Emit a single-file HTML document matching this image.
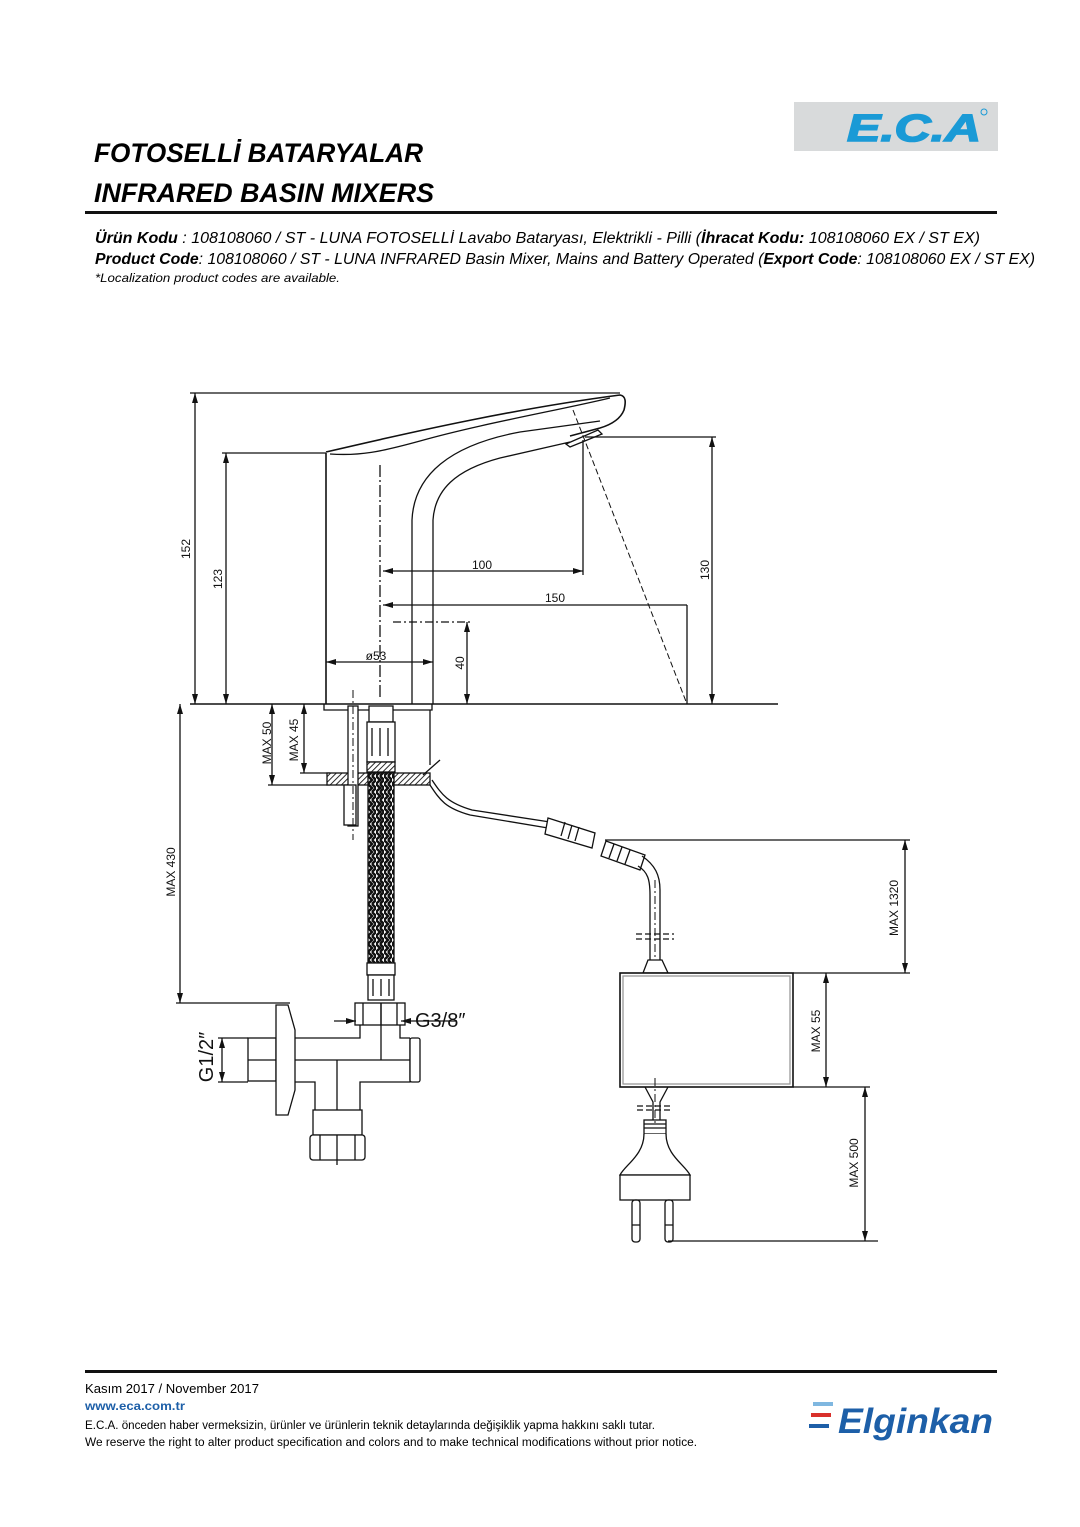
<!DOCTYPE html>
<html><head><meta charset="utf-8"><style>
html,body{margin:0;padding:0;background:#fff}
svg{display:block}
text{font-family:"Liberation Sans",sans-serif}
.dim{font-family:"DejaVu Sans","Liberation Sans",sans-serif;font-size:12px}
</style></head><body>
<svg width="1080" height="1527" viewBox="0 0 1080 1527" xmlns="http://www.w3.org/2000/svg">
<defs>
<marker id="a" viewBox="0 0 10 6" refX="10" refY="3" markerWidth="10" markerHeight="6" orient="auto-start-reverse" markerUnits="userSpaceOnUse"><path d="M0,0 L10,3 L0,6 z" fill="#111"/></marker>
<pattern id="h" width="4" height="4" patternUnits="userSpaceOnUse" patternTransform="rotate(45)"><rect width="4" height="4" fill="#fff"/><line x1="0" y1="0" x2="0" y2="4" stroke="#111" stroke-width="1.8"/></pattern>
<pattern id="br" width="8" height="8" patternUnits="userSpaceOnUse"><rect width="8" height="8" fill="#fff"/><path d="M0,0 L4,4 L0,8 M4,0 L8,4 L4,8" stroke="#111" stroke-width="2.4" fill="none"/></pattern>
</defs>

<!-- ECA logo -->
<rect x="794" y="102" width="204" height="49" fill="#d8dadb"/>
<text x="847" y="141" font-size="38" font-weight="bold" font-style="italic" fill="#1a9ad6" stroke="#1a9ad6" stroke-width="1.5" textLength="134" lengthAdjust="spacingAndGlyphs">E.C.A</text>
<circle cx="984" cy="112" r="3" fill="none" stroke="#1a9ad6" stroke-width="1"/>

<!-- titles -->
<text x="94" y="162" font-size="27" font-weight="bold" font-style="italic" textLength="329" lengthAdjust="spacingAndGlyphs">FOTOSELLİ BATARYALAR</text>
<text x="94" y="202" font-size="27" font-weight="bold" font-style="italic" textLength="340" lengthAdjust="spacingAndGlyphs">INFRARED BASIN MIXERS</text>
<rect x="85" y="211" width="912" height="3" fill="#111"/>
<text x="95" y="243" font-size="15.5" font-style="italic" textLength="885" lengthAdjust="spacingAndGlyphs"><tspan font-weight="bold">Ürün Kodu</tspan>     : 108108060 / ST - LUNA FOTOSELLİ Lavabo Bataryası, Elektrikli - Pilli (<tspan font-weight="bold">İhracat Kodu:</tspan> 108108060 EX / ST EX)</text>
<text x="95" y="264" font-size="15.5" font-style="italic" textLength="940" lengthAdjust="spacingAndGlyphs"><tspan font-weight="bold">Product Code</tspan>: 108108060 / ST - LUNA INFRARED Basin Mixer, Mains and Battery Operated (<tspan font-weight="bold">Export Code</tspan>: 108108060 EX / ST EX)</text>
<text x="95" y="282" font-size="12" font-style="italic" textLength="245" lengthAdjust="spacingAndGlyphs">*Localization product codes are available.</text>

<g stroke="#111" fill="none" stroke-width="1.3">
<line x1="190" y1="393" x2="620" y2="393"/>
<line x1="195" y1="393" x2="195" y2="704" marker-start="url(#a)" marker-end="url(#a)"/>
<line x1="222" y1="453" x2="326" y2="453"/>
<line x1="226" y1="453" x2="226" y2="704" marker-start="url(#a)" marker-end="url(#a)"/>
<line x1="190" y1="704" x2="778" y2="704" stroke-width="1.6"/>
<path d="M326,704 L326,453" stroke-width="1.6"/>
<path d="M326,452 C420,430 520,408 620,395 C626,396 626,402 624,410 C620,420 610,425 600,428 L570,436" stroke-width="1.6"/>
<path d="M330,454 C360,456 380,452 420,441 C480,424 560,410 610,398"/>
<path d="M412,704 L412,520 C414,475 450,445 520,432 L600,421"/>
<path d="M433,704 L433,520 C435,490 455,470 500,458 L570,442"/>
<path d="M566,444 L598,430 L602,434 L570,447 z" fill="#fff"/>
<line x1="380" y1="465" x2="380" y2="700" stroke-dasharray="12,3,2,3"/>
<line x1="573" y1="410" x2="687" y2="704" stroke-dasharray="6,3" stroke-width="1"/>
<line x1="583" y1="440" x2="583" y2="575"/>
<line x1="383" y1="571" x2="583" y2="571" marker-start="url(#a)" marker-end="url(#a)"/>
<line x1="383" y1="605" x2="687" y2="605" marker-start="url(#a)"/>
<line x1="687" y1="605" x2="687" y2="704"/>
<line x1="585" y1="437" x2="716" y2="437"/>
<line x1="712" y1="437" x2="712" y2="704" marker-start="url(#a)" marker-end="url(#a)"/>
<line x1="393" y1="622" x2="470" y2="622" stroke-dasharray="8,3,2,3"/>
<line x1="467" y1="622" x2="467" y2="704" marker-start="url(#a)" marker-end="url(#a)"/>
<line x1="326" y1="662" x2="433" y2="662" marker-start="url(#a)" marker-end="url(#a)"/>

<line x1="268" y1="785" x2="330" y2="785"/>
<line x1="272" y1="704" x2="272" y2="785" marker-start="url(#a)" marker-end="url(#a)"/>
<line x1="300" y1="773" x2="330" y2="773"/>
<line x1="304" y1="704" x2="304" y2="773" marker-start="url(#a)" marker-end="url(#a)"/>
<rect x="327" y="773" width="103" height="12" fill="url(#h)"/>
<path d="M324,704 L324,710 L432,710 L432,704"/>
<line x1="430" y1="710" x2="430" y2="765"/>
<line x1="423" y1="775" x2="440" y2="760"/>
<rect x="348" y="706" width="10" height="120" fill="#fff"/>
<rect x="344" y="785" width="12" height="40" fill="#fff"/>
<line x1="353" y1="690" x2="353" y2="840" stroke-dasharray="8,3,2,3" stroke-width="1"/>
<rect x="369" y="706" width="24" height="16" fill="#fff"/>
<rect x="367" y="722" width="28" height="40" fill="#fff"/>
<path d="M372,728 v28 M380,728 v28 M388,728 v28"/>
<rect x="367" y="762" width="28" height="10" fill="url(#h)"/>
<rect x="368" y="773" width="26" height="190" fill="url(#br)"/>
<line x1="381" y1="773" x2="381" y2="963"/>
<rect x="367" y="963" width="28" height="12" fill="#fff"/>
<rect x="368" y="975" width="26" height="25" fill="#fff"/>
<path d="M373,979 v17 M381,979 v17 M389,979 v17"/>
<line x1="176" y1="1003" x2="290" y2="1003"/>
<line x1="180" y1="704" x2="180" y2="1003" marker-start="url(#a)" marker-end="url(#a)"/>

<rect x="355" y="1003" width="50" height="22" fill="#fff"/>
<path d="M363,1003 v22 M381,1003 v22 M397,1003 v22"/>
<path d="M360,1025 L360,1038 L295,1038 M400,1025 L400,1038 L410,1038"/>
<path d="M295,1082 L315,1082 L315,1112 M360,1112 L360,1082 L410,1082 L410,1038"/>
<line x1="295" y1="1060" x2="410" y2="1060"/>
<line x1="381" y1="1003" x2="381" y2="1060"/>
<line x1="337" y1="1060" x2="337" y2="1165"/>
<rect x="410" y="1038" width="10" height="44" rx="2" fill="#fff"/>
<rect x="248" y="1038" width="28" height="43" fill="#fff"/>
<line x1="248" y1="1060" x2="276" y2="1060"/>
<path d="M276,1005 L288,1005 L295,1030 L295,1090 L288,1115 L276,1115 z" fill="#fff"/>
<rect x="313" y="1110" width="49" height="25" fill="#fff"/>
<rect x="310" y="1135" width="55" height="25" rx="3" fill="#fff"/>
<path d="M320,1135 v25 M337,1135 v25 M355,1135 v25"/>
<line x1="218" y1="1038" x2="248" y2="1038"/>
<line x1="218" y1="1082" x2="248" y2="1082"/>
<line x1="222" y1="1038" x2="222" y2="1082" marker-start="url(#a)" marker-end="url(#a)"/>
<line x1="334" y1="1021" x2="356" y2="1021" marker-end="url(#a)"/>
<line x1="457" y1="1021" x2="401" y2="1021" marker-end="url(#a)"/>

<path d="M430,785 C440,800 445,808 470,815 L548,828"/>
<path d="M432,780 C442,795 448,803 472,810 L550,822"/>
<path d="M548,818 L595,833 L592,848 L545,834 z" fill="#fff"/>
<path d="M565,822 l-4,14 M572,825 l-4,14 M579,827 l-4,14"/>
<path d="M606,841 L645,855 L640,870 L601,856 z" fill="#fff"/>
<path d="M614,844 l-5,14 M622,847 l-5,14 M630,850 l-5,14"/>
<path d="M642,856 C655,865 660,875 660,890 L660,965"/>
<path d="M638,866 C648,872 650,880 650,895 L650,965"/>
<line x1="655" y1="880" x2="655" y2="965" stroke-dasharray="8,3,2,3" stroke-width="1"/>
<path d="M636,934 h38 M636,939 h38" stroke-dasharray="6,3"/>
<path d="M648,960 L662,960 L668,973 L643,973 z" fill="#fff"/>
<line x1="605" y1="840" x2="910" y2="840"/>
<line x1="905" y1="840" x2="905" y2="973" marker-start="url(#a)" marker-end="url(#a)"/>

<rect x="620" y="973" width="173" height="114" fill="#fff" stroke-width="1.6"/>
<rect x="623" y="976" width="167" height="108" stroke="#999"/>
<line x1="793" y1="973" x2="910" y2="973"/>
<line x1="793" y1="1087" x2="870" y2="1087"/>
<line x1="826" y1="973" x2="826" y2="1087" marker-start="url(#a)" marker-end="url(#a)"/>
<line x1="865" y1="1087" x2="865" y2="1241" marker-start="url(#a)" marker-end="url(#a)"/>
<line x1="668" y1="1241" x2="878" y2="1241"/>
<path d="M645,1087 L653,1102 L653,1120 M668,1087 L660,1102 L660,1120"/>
<line x1="655" y1="1078" x2="655" y2="1125" stroke-dasharray="8,3,2,3" stroke-width="1"/>
<path d="M637,1106 h36 M637,1110 h36" stroke-dasharray="6,3"/>
<rect x="644" y="1120" width="22" height="14"/>
<path d="M644,1124 h22 M644,1128 h22"/>
<path d="M644,1134 C644,1155 625,1165 620,1175 L690,1175 C685,1165 666,1155 666,1134" fill="#fff"/>
<rect x="620" y="1175" width="70" height="25" fill="#fff"/>
<rect x="632" y="1200" width="8" height="42" rx="3"/>
<rect x="665" y="1200" width="8" height="42" rx="3"/>
<path d="M632,1225 h8 M665,1225 h8"/>
</g>

<g class="dim" fill="#111">
<text transform="translate(190,549) rotate(-90)" text-anchor="middle">152</text>
<text transform="translate(222,579) rotate(-90)" text-anchor="middle">123</text>
<text x="482" y="569" text-anchor="middle">100</text>
<text x="555" y="602" text-anchor="middle">150</text>
<text transform="translate(709,570) rotate(-90)" text-anchor="middle">130</text>
<text transform="translate(464,663) rotate(-90)" text-anchor="middle">40</text>
<text x="376" y="660" text-anchor="middle">ø53</text>
<text transform="translate(271,743) rotate(-90)" text-anchor="middle">MAX 50</text>
<text transform="translate(298,740) rotate(-90)" text-anchor="middle">MAX 45</text>
<text transform="translate(175,872) rotate(-90)" text-anchor="middle">MAX 430</text>
<text transform="translate(898,908) rotate(-90)" text-anchor="middle">MAX 1320</text>
<text transform="translate(820,1031) rotate(-90)" text-anchor="middle">MAX 55</text>
<text transform="translate(858,1163) rotate(-90)" text-anchor="middle">MAX 500</text>
<text x="415" y="1027" font-size="20">G3/8″</text>
<text transform="translate(213,1057) rotate(-90)" text-anchor="middle" font-size="20">G1/2″</text>
</g>

<rect x="85" y="1370" width="912" height="3" fill="#111"/>
<text x="85" y="1393" font-size="12.5" textLength="174" lengthAdjust="spacingAndGlyphs">Kasım 2017 / November 2017</text>
<text x="85" y="1410" font-size="12" font-weight="bold" fill="#1d5fa8" textLength="100" lengthAdjust="spacingAndGlyphs">www.eca.com.tr</text>
<text x="85" y="1429" font-size="11.5" textLength="570" lengthAdjust="spacingAndGlyphs">E.C.A. önceden haber vermeksizin, ürünler ve ürünlerin teknik detaylarında değişiklik yapma hakkını saklı tutar.</text>
<text x="85" y="1446" font-size="11.5" textLength="612" lengthAdjust="spacingAndGlyphs">We reserve the right to alter product specification and colors and to make technical modifications without prior notice.</text>
<rect x="813" y="1402" width="20" height="4" fill="#7fb7e0"/>
<rect x="811" y="1413" width="20" height="4" fill="#d9302b"/>
<rect x="809" y="1424" width="20" height="4" fill="#1d5fa8"/>
<text x="838" y="1433" font-size="35" font-weight="bold" font-style="italic" fill="#1d5fa8" textLength="155" lengthAdjust="spacingAndGlyphs">Elginkan</text>
</svg>
</body></html>
